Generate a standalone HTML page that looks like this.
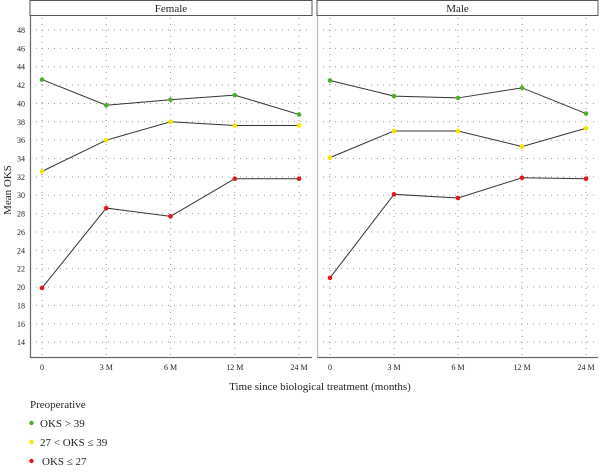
<!DOCTYPE html>
<html><head><meta charset="utf-8"><style>
body{margin:0;background:#fff;}
svg text{font-family:"Liberation Serif",serif;fill:#222;}
</style></head><body>
<svg id="c" width="600" height="469"></svg>
<script>
const categories=["0","3 M","6 M","12 M","24 M"];
const yTicks=[14,16,18,20,22,24,26,28,30,32,34,36,38,40,42,44,46,48];
const panels=["Female","Male"];
const femaleGreen=[42.6,39.8,40.4,40.9,38.8];
const femaleYellow=[32.6,36.0,38.0,37.6,37.6];
const femaleRed=[19.9,28.6,27.7,31.8,31.8];
const maleGreen=[42.5,40.8,40.6,41.7,38.9];
const maleYellow=[34.1,37.0,37.0,35.3,37.3];
const maleRed=[21.0,30.1,29.7,31.9,31.8];
const legendLabels=["OKS > 39","27 < OKS \u2264 39","OKS \u2264 27"];
const colors=["#4caf2a","#f2e600","#e8141c"];

const svg=document.getElementById('c');
const NS='http://www.w3.org/2000/svg';
function mk(t,a,p){const e=document.createElementNS(NS,t);for(const k in a)e.setAttribute(k,a[k]);(p||svg).appendChild(e);return e;}
function y(v){return 30+(48-v)*9.18;}
const panelX=[[42,64.25],[330,64]];
function x(p,i){return panelX[p][0]+i*panelX[p][1];}
const bounds=[[30,312],[317,598]];
const series=[[femaleGreen,femaleYellow,femaleRed],[maleGreen,maleYellow,maleRed]];

panels.forEach((name,p)=>{
  const [l,r]=bounds[p];
  const g=mk('g',{});
  
  
  const strip=mk('rect',{x:l,y:0.5,width:r-l,height:15,fill:'#fff',stroke:'#555','stroke-width':1},g);
  
  
  const st=mk('text',{x:(l+r)/2,y:12,'text-anchor':'middle','font-size':11},g);
  st.textContent=name;
  
  
  yTicks.forEach(v=>{
    const gl=mk('line',{x1:l,x2:r,y1:y(v),y2:y(v),stroke:'#999','stroke-width':1,'stroke-dasharray':'1 5'},g);
    
    
  });
  categories.forEach((c,i)=>{
    const gl=mk('line',{x1:x(p,i),x2:x(p,i),y1:18,y2:357,stroke:'#999','stroke-width':1,'stroke-dasharray':'1 5'},g);
    
    
    const t=mk('text',{x:x(p,i),y:370,'text-anchor':'middle','font-size':8},g);
    t.textContent=c;
    
    
  });
  const ax=mk('line',{x1:l,x2:r,y1:357.5,y2:357.5,stroke:'#666','stroke-width':1.2},g);
  
  
  const ay=mk('line',{x1:l+0.5,x2:l+0.5,y1:16,y2:357.5,stroke:p?'#bbb':'#666','stroke-width':1.2},g);
  
  
  series[p].forEach((s,k)=>{
    const pts=s.map((v,i)=>x(p,i)+','+y(v)).join(' ');
    const pl=mk('polyline',{points:pts,fill:'none',stroke:'#333','stroke-width':1},g);
    
    
    s.forEach((v,i)=>{
      const c=mk('circle',{cx:x(p,i),cy:y(v),r:2.3,fill:colors[k]},g);
      
      
    });
  });
});
yTicks.forEach(v=>{
  const t=mk('text',{x:25,y:y(v)+3,'text-anchor':'end','font-size':8});
  t.textContent=v;
  
  
});
const yt=mk('text',{x:11,y:190,'text-anchor':'middle','font-size':11,transform:'rotate(-90 11 190)'});
yt.textContent='Mean OKS';


const xt=mk('text',{x:320,y:390,'text-anchor':'middle','font-size':11});
xt.textContent='Time since biological treatment (months)';


const lt=mk('text',{x:30,y:408,'font-size':11});
lt.textContent='Preoperative';


legendLabels.forEach((lab,k)=>{
  const cy=423+k*19;
  const c=mk('circle',{cx:31.5,cy:cy,r:2.2,fill:colors[k]});
  
  
  const t=mk('text',{x:k==2?42:40,y:cy+4,'font-size':11});
  t.textContent=lab;
  
  
});
</script>
</body></html>
